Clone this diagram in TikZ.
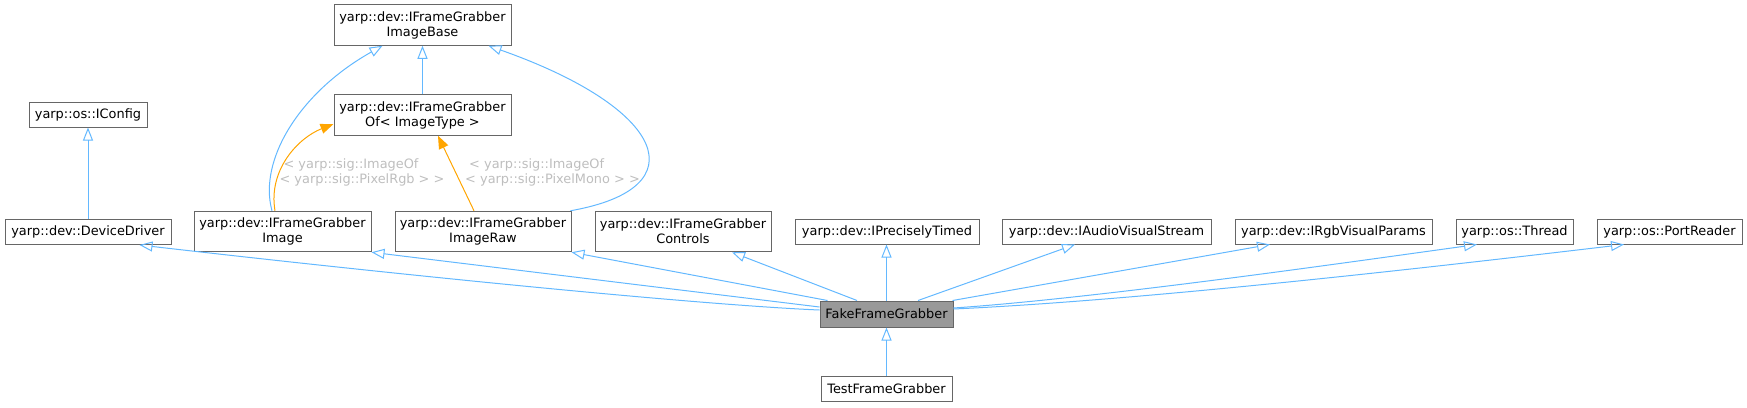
\documentclass[tikz,border=0pt]{standalone}
\usepackage{fontspec}
\setmainfont{DejaVu Sans}
\usetikzlibrary{arrows.meta}
\definecolor{edgeblue}{HTML}{63B8FF}
\definecolor{edgeorange}{HTML}{FFA500}
\definecolor{boxborder}{HTML}{666666}
\definecolor{ffgfill}{HTML}{999999}
\definecolor{lblgrey}{HTML}{BEBEBE}
\tikzset{
  box/.style={draw=boxborder, line width=1pt, fill=white, inner sep=0pt, align=center, minimum height=25pt},
  twobox/.style={box, minimum height=40.5pt},
  inh/.style={draw=edgeblue, line width=1pt, -{Triangle[open, length=13pt, width=10pt]}},
  tmpl/.style={draw=edgeorange, line width=1pt, -{Triangle[length=13pt, width=10pt]}},
  lbl/.style={text=lblgrey, align=left, inner sep=0pt}
}
\begin{document}
\begin{tikzpicture}[x=1pt, y=-1pt, font=\fontsize{12.9}{15}\selectfont]
\useasboundingbox (0,0) rectangle (1747,407);
% nodes
\node[twobox, minimum width=177pt] (base) at (422.5,25) {yarp::dev::IFrameGrabber\\ImageBase};
\node[twobox, minimum width=177pt] (of) at (422.5,115) {yarp::dev::IFrameGrabber\\Of< ImageType >};
\node[box, minimum width=118pt] (icfg) at (88,114.5) {yarp::os::IConfig};
\node[box, minimum width=166pt] (dd) at (88,232) {yarp::dev::DeviceDriver};
\node[twobox, minimum width=177pt] (img) at (282.5,231.5) {yarp::dev::IFrameGrabber\\Image};
\node[twobox, minimum width=176pt] (raw) at (483,231.5) {yarp::dev::IFrameGrabber\\ImageRaw};
\node[twobox, minimum width=176pt] (ctl) at (683,231.5) {yarp::dev::IFrameGrabber\\Controls};
\node[box, minimum width=184pt] (ipt) at (887,231.5) {yarp::dev::IPreciselyTimed};
\node[box, minimum width=209pt] (iavs) at (1106.5,231.5) {yarp::dev::IAudioVisualStream};
\node[box, minimum width=197pt] (irgb) at (1333.5,231.5) {yarp::dev::IRgbVisualParams};
\node[box, minimum width=117pt] (thr) at (1514.5,231.5) {yarp::os::Thread};
\node[box, minimum width=145pt] (prd) at (1669.5,231.5) {yarp::os::PortReader};
\node[box, fill=ffgfill, minimum width=133pt, minimum height=26pt] (ffg) at (886.5,314) {FakeFrameGrabber};
\node[box, minimum width=131pt] (tfg) at (886.5,388.5) {TestFrameGrabber};
% labels
\node[lbl] (l1) at (362,172) {\hspace{4pt}< yarp::sig::ImageOf\\< yarp::sig::PixelRgb > >};
\node[lbl] (l2) at (552.5,172) {\hspace{4pt}< yarp::sig::ImageOf\\< yarp::sig::PixelMono > >};
% edges
\draw[inh] (of.north) -- (base.south);
\draw[inh] (dd.north) -- (icfg.south);
\draw[inh] ([xshift=-10.5pt]img.north) .. controls (258,160) and (300,92) .. ([xshift=49pt]base.south west);
\draw[inh] ([xshift=-1pt]raw.north east) .. controls (700,188) and (665,108) .. ([xshift=-23pt]base.south east);
\draw[tmpl] ([xshift=-7.5pt]img.north) .. controls (268,170) and (298,138) .. ([yshift=-9pt]of.west);
\draw[tmpl] ([xshift=-9pt]raw.north) -- ([xshift=15.5pt]of.south);
\draw[inh] ([yshift=4pt]ffg.west) .. controls (700,305) and (400,275) .. ([xshift=-32pt]dd.south east);
\draw[inh] ([yshift=7pt]ffg.west) -- (img.south east);
\draw[inh] ([xshift=8pt]ffg.north west) -- (raw.south east);
\draw[inh] ([xshift=-29.5pt]ffg.north) -- ([xshift=49pt]ctl.south);
\draw[inh] (ffg.north) -- (ffg.north |- ipt.south);
\draw[inh] ([xshift=31.5pt]ffg.north) -- ([xshift=-31.5pt]iavs.south);
\draw[inh] ([xshift=-1pt]ffg.north east) -- ([xshift=-63.5pt]irgb.south);
\draw[inh] ([yshift=6pt]ffg.east) .. controls (1100,298) and (1350,262) .. ([xshift=-37.5pt]thr.south);
\draw[inh] ([yshift=5pt]ffg.east) .. controls (1150,300) and (1450,265) .. ([xshift=-45.5pt]prd.south);
\draw[inh] (tfg.north) -- (ffg.south);
\end{tikzpicture}
\end{document}
